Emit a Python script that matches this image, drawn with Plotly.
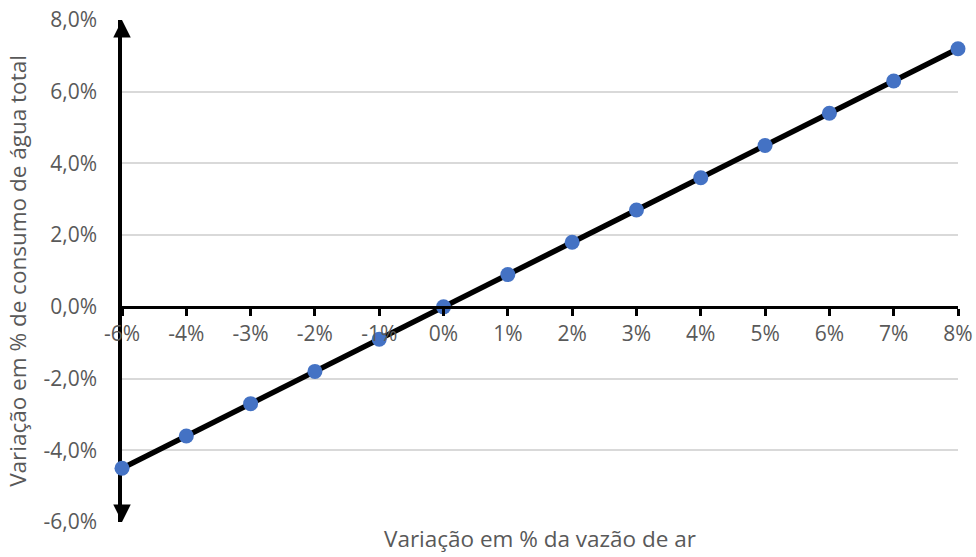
import plotly.graph_objects as go

# Air-flow variation categories (x) and resulting total water consumption variation (y, in %)
x_labels = ["-6%", "-4%", "-3%", "-2%", "-1%", "0%", "1%", "2%", "3%", "4%", "5%", "6%", "7%", "8%"]
water_var = [-4.5, -3.6, -2.7, -1.8, -0.9, 0.0, 0.9, 1.8, 2.7, 3.6, 4.5, 5.4, 6.3, 7.2]

y_tick_vals = [-6, -4, -2, 0, 2, 4, 6, 8]
y_tick_text = ["-6,0%", "-4,0%", "-2,0%", "0,0%", "2,0%", "4,0%", "6,0%", "8,0%"]

x_title = "Variação em % da vazão de ar"
y_title = "Variação em % de consumo de água total"

y_min, y_max = -6, 8
zero_pos = (0 - y_min) / (y_max - y_min)

font_family = "Open Sans, Lato, sans-serif"
label_color = "#595959"
tick_size = 21
title_size = 22.5

fig = go.Figure()
fig.add_trace(go.Scatter(
    x=x_labels,
    y=water_var,
    mode="lines+markers",
    line=dict(color="black", width=5.5),
    marker=dict(color="#4472C4", size=15),
    cliponaxis=False,
    showlegend=False,
))

fig.update_layout(
    width=976,
    height=557,
    margin=dict(l=122, r=18, t=20, b=35),
    paper_bgcolor="white",
    plot_bgcolor="white",
    font=dict(family=font_family, color=label_color, size=tick_size),
    xaxis=dict(
        type="category",
        range=[0, len(x_labels) - 1],
        anchor="free",
        position=zero_pos,
        automargin=False,
        showline=True,
        linecolor="black",
        linewidth=2.5,
        ticks="outside",
        ticklen=7,
        tickwidth=2.5,
        tickcolor="black",
        showgrid=False,
        zeroline=False,
        tickfont=dict(size=tick_size, color=label_color),
    ),
    xaxis2=dict(
        overlaying="x",
        range=[0, len(x_labels) - 1],
        anchor="free",
        position=zero_pos,
        automargin=False,
        side="top",
        tickvals=list(range(len(x_labels))),
        ticks="outside",
        ticklen=7,
        tickwidth=2.5,
        tickcolor="black",
        showticklabels=False,
        showgrid=False,
        showline=False,
        zeroline=False,
    ),
    yaxis=dict(
        range=[y_min, y_max],
        automargin=False,
        tickvals=y_tick_vals,
        ticktext=y_tick_text,
        showgrid=True,
        gridcolor="#d9d9d9",
        gridwidth=1.5,
        zeroline=False,
        showline=True,
        linecolor="black",
        linewidth=3.5,
        layer="below traces",
        ticks="",
        ticklabelstandoff=17,
        tickfont=dict(size=tick_size, color=label_color),
        title=dict(text=y_title, font=dict(size=title_size, color=label_color), standoff=12),
    ),
)

# Arrowheads at both ends of the vertical axis
for tip, offset in [(y_max, 16), (y_min, -16)]:
    fig.add_annotation(
        x=0, y=tip, xref="x", yref="y",
        ax=0, ay=offset,
        text="",
        showarrow=True,
        arrowhead=2,
        arrowsize=1,
        arrowwidth=3.5,
        arrowcolor="black",
    )

fig.add_annotation(
    x=0.5, y=0, xref="paper", yref="paper",
    xanchor="center", yanchor="top", yshift=1,
    text=x_title, showarrow=False,
    font=dict(size=title_size, color=label_color, family=font_family),
)

fig.write_html("out.html")
